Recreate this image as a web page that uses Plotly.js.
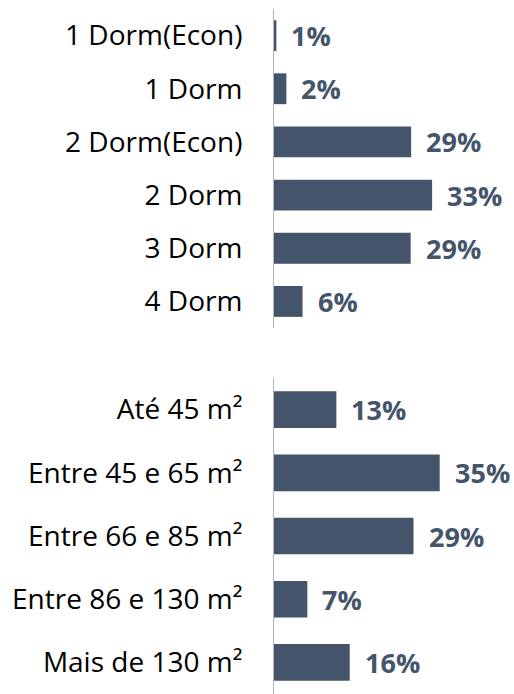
<!DOCTYPE html>
<html>
<head>
<meta charset="utf-8">
<script src="https://cdn.plot.ly/plotly-3.0.1.min.js"></script>
<style>html,body{margin:0;padding:0;background:#fff;}#chart{width:514px;height:694px;}</style>
</head>
<body>
<div id="chart"></div>
<script>
// Top chart: dormitory counts
const dormCategories = ["1 Dorm(Econ)", "1 Dorm", "2 Dorm(Econ)", "2 Dorm", "3 Dorm", "4 Dorm"];
const dormValues = [0.5, 2.6, 28.8, 33.2, 28.7, 6.0];
const dormLabels = ["1%", "2%", "29%", "33%", "29%", "6%"];

// Bottom chart: unit size ranges
const areaCategories = ["Até 45 m²", "Entre 45 e 65 m²", "Entre 66 e 85 m²", "Entre 86 e 130 m²", "Mais de 130 m²"];
const areaValues = [13.1, 34.8, 29.3, 7.0, 15.9];
const areaLabels = ["13%", "35%", "29%", "7%", "16%"];

const barColor = "#44546a";
const labelFont = {family: "'Open Sans', Lato, sans-serif", size: 27, color: barColor, weight: 700};
const tickFont = {family: "'Open Sans', Lato, sans-serif", size: 28, color: "#000000"};
const xMax = 50.4;

const traces = [
  {type: "bar", orientation: "h", x: dormValues, y: dormCategories, xaxis: "x", yaxis: "y",
   marker: {color: barColor}, hoverinfo: "none"},
  {type: "bar", orientation: "h", x: areaValues, y: areaCategories, xaxis: "x2", yaxis: "y2",
   marker: {color: barColor}, hoverinfo: "none"}
];

const annotations = [];
dormValues.forEach((v, i) => annotations.push({
  x: v, y: dormCategories[i], xref: "x", yref: "y", text: "<b>" + dormLabels[i] + "</b>",
  showarrow: false, xanchor: "left", yanchor: "middle", xshift: 13, font: labelFont
}));
areaValues.forEach((v, i) => annotations.push({
  x: v, y: areaCategories[i], xref: "x2", yref: "y2", text: "<b>" + areaLabels[i] + "</b>",
  showarrow: false, xanchor: "left", yanchor: "middle", xshift: 13, font: labelFont
}));

const yCommon = {
  autorange: "reversed", type: "category", showline: true, linecolor: "#b4b4b4", linewidth: 1,
  ticks: "", ticklabelstandoff: 25, tickfont: tickFont, showgrid: false, zeroline: false
};
const xCommon = {range: [0, xMax], visible: false, showgrid: false, zeroline: false, fixedrange: true};

const layout = {
  width: 514, height: 694,
  margin: {l: 274, r: 0, t: 9, b: 0},
  paper_bgcolor: "#ffffff", plot_bgcolor: "#ffffff",
  showlegend: false, bargap: 0.42,
  xaxis: Object.assign({anchor: "y"}, xCommon),
  xaxis2: Object.assign({anchor: "y2"}, xCommon),
  yaxis: Object.assign({domain: [0.5343, 1], anchor: "x"}, yCommon),
  yaxis2: Object.assign({domain: [0, 0.4613], anchor: "x2"}, yCommon),
  annotations: annotations
};

Plotly.newPlot("chart", traces, layout, {staticPlot: true, displayModeBar: false});
</script>
</body>
</html>
